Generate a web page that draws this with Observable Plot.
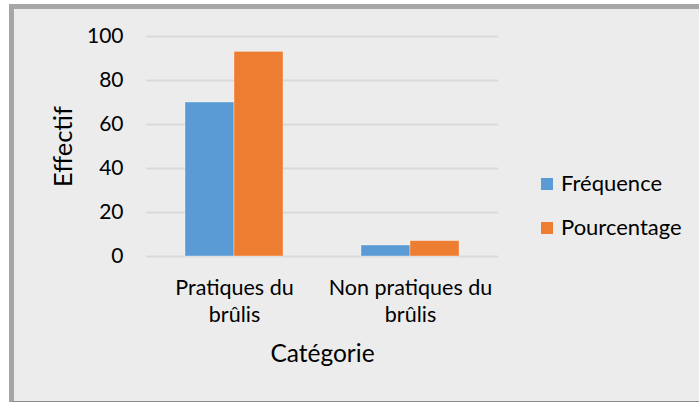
<!DOCTYPE html>
<html><head><meta charset="utf-8">
<script src="https://cdn.jsdelivr.net/npm/d3@7"></script>
<script src="https://cdn.jsdelivr.net/npm/@observablehq/plot@0.6"></script>
<style>
html,body{margin:0;padding:0;background:#fff;}
#wrap{position:relative;width:699px;height:402px;overflow:hidden;font-family:Lato,sans-serif;}
#panel{position:absolute;left:9px;top:4px;width:700px;height:392px;background:#ececec;border-top:5px solid #a6a6a6;border-left:5px solid #a6a6a6;border-bottom:1px solid #8a8a8a;}
#chart{position:absolute;left:0;top:0;}
#chart svg{overflow:visible;}
.item{position:absolute;white-space:nowrap;font-size:22px;line-height:24px;color:#000;}
.sw{position:absolute;width:12px;height:12px;}
</style>
</head><body>
<div id="wrap"><div id="panel"></div><div id="chart"></div><div id="legend"></div></div>
<script>
const categories = ["Pratiques du brûlis", "Non pratiques du brûlis"];
const categoryLabels = ["Pratiques du\nbrûlis", "Non pratiques du\nbrûlis"];
const series = ["Fréquence", "Pourcentage"];
const frequence = [70, 5];
const pourcentage = [93, 7];
const yTicks = [0, 20, 40, 60, 80, 100];
const colors = ["#5b9bd5", "#ed7d31"];
const yTitle = "Effectif";
const xTitle = "Catégorie";

const data = categories.flatMap((c, i) => [
  {category: c, series: series[0], value: frequence[i]},
  {category: c, series: series[1], value: pourcentage[i]}
]);

const chart = Plot.plot({
  width: 699, height: 402,
  marginLeft: 145, marginRight: 201, marginTop: 36, marginBottom: 146,
  style: {background: "transparent", fontFamily: "Lato, sans-serif", fontSize: "21px", color: "#000", overflow: "visible"},
  fx: {domain: categories, paddingInner: 0, paddingOuter: 0, label: null, axis: null},
  x: {domain: series, paddingInner: 0, paddingOuter: 0.765, axis: null},
  y: {domain: [0, 100], label: null},
  color: {domain: series, range: colors},
  marks: [
    Plot.gridY(yTicks, {stroke: "#d9d9d9", strokeOpacity: 1, strokeWidth: 2}),
    Plot.barY(data, {fx: "category", x: "series", y: "value", fill: "series", stroke: "#ffffff", strokeOpacity: 0.35, strokeWidth: 1}),
    Plot.axisY(yTicks, {tickSize: 0, tickPadding: 23, label: null, fontSize: 21}),
    Plot.axisFx({anchor: "bottom", tickSize: 0, tickPadding: 20, tickFormat: d => categoryLabels[categories.indexOf(d)], lineHeight: 1.24, label: null, fontSize: 21.5}),
    Plot.text([yTitle], {facet: "super", frameAnchor: "left", textAnchor: "middle", lineAnchor: "middle", rotate: -90, dx: -83, fontSize: 25.5, fill: "#000"}),
    Plot.text([xTitle], {facet: "super", frameAnchor: "bottom", textAnchor: "middle", lineAnchor: "middle", dy: 98, fontSize: 24.5, fill: "#000"})
  ]
});
document.getElementById("chart").appendChild(chart);

const legend = document.getElementById("legend");
const legendY = [184, 228];
series.forEach((s, i) => {
  const sw = document.createElement("div");
  sw.className = "sw";
  sw.style.left = "541px";
  sw.style.top = (legendY[i] - 6) + "px";
  sw.style.background = colors[i];
  legend.appendChild(sw);
  const t = document.createElement("div");
  t.className = "item";
  t.style.left = "561px";
  t.style.top = (legendY[i] - 13) + "px";
  t.textContent = s;
  legend.appendChild(t);
});
</script>
</body></html>
